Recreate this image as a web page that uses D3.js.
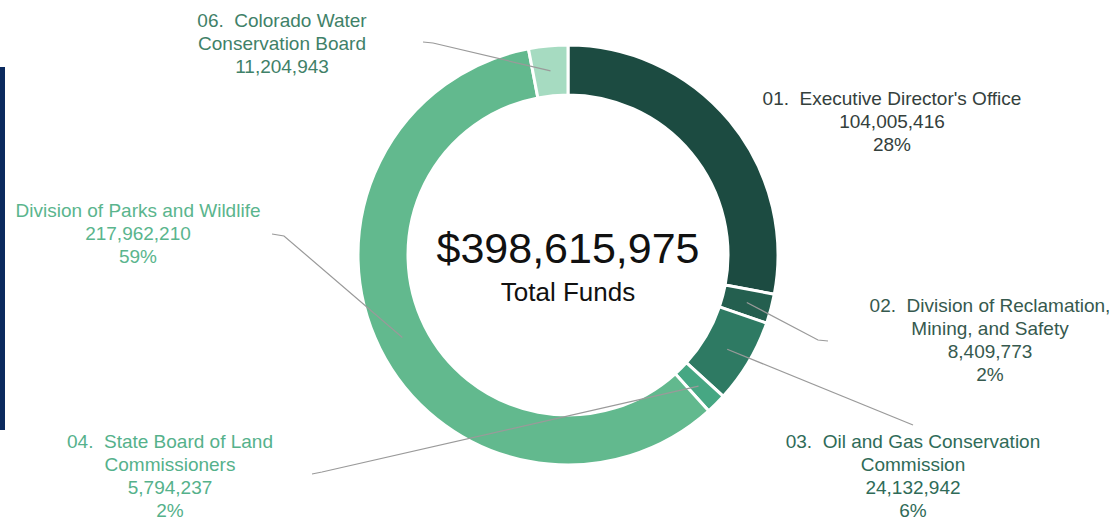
<!DOCTYPE html>
<html>
<head>
<meta charset="utf-8">
<script src="https://cdn.jsdelivr.net/npm/d3@7"></script>
<style>
  html, body { margin: 0; padding: 0; background: #fff; }
  svg { display: block; font-family: "Liberation Sans", Arial, sans-serif; }
</style>
</head>
<body>
<div class="view"></div>
<script>
// chart data
const names = [
  "01.  Executive Director's Office",
  "02.  Division of Reclamation,\nMining, and Safety",
  "03.  Oil and Gas Conservation\nCommission",
  "04.  State Board of Land\nCommissioners",
  "Division of Parks and Wildlife",
  "06.  Colorado Water\nConservation Board"
];
const funds = [104005416, 8409773, 24132942, 5794237, 217962210, 11204943];
const showPct = [true, true, true, true, true, false];
const totalFunds = 398615975;
const totalLabel = "Total Funds";

// look
const sliceColors = ["#1c4b41", "#245f4f", "#2e7a63", "#46a783", "#62b98e", "#a6dbc1"];
const textColors = ["#34403c", "#36594e", "#2f6b58", "#55b18b", "#5ab58d", "#3f8168"];

// label placement: centre x, first baseline y, leader end points (label side first)
const labelPos = [
  {x: 892, y: 105, leader: null},
  {x: 990, y: 312, leader: [[828, 341], [818, 340]]},
  {x: 913, y: 448, leader: [[913, 425]]},
  {x: 170, y: 448, leader: [[312, 474], [322, 472]]},
  {x: 138, y: 217, leader: [[272, 234], [284, 236]]},
  {x: 282, y: 27, leader: [[423, 42], [433, 43]]}
];

const width = 1116, height = 521;
const cx = 568, cy = 255;
const outerR = 210, innerR = 160, leaderR = 185;

let svg = d3.select(".view").append("svg")
  .attr("width", width)
  .attr("height", height);

// navy bar on the left edge
svg.append("rect")
  .attr("x", 0).attr("y", 67)
  .attr("width", 5).attr("height", 363)
  .attr("fill", "#0b2a5e");

let g = svg.append("g")
  .attr("transform", "translate(" + cx + "," + cy + ")");

let pie = d3.pie().sort(null).value(d => d);
let arcs = pie(funds);
let arc = d3.arc().innerRadius(innerR).outerRadius(outerR);
let midArc = d3.arc().innerRadius(leaderR).outerRadius(leaderR);

g.append("g").selectAll("path")
  .data(arcs)
  .join("path")
  .attr("d", arc)
  .attr("fill", (d, i) => sliceColors[i])
  .attr("stroke", "#fff")
  .attr("stroke-width", 3);

// leader lines (drawn over the ring like the original)
let line = d3.line();
g.append("g").selectAll("path")
  .data(arcs.filter((d, i) => labelPos[i].leader))
  .join("path")
  .attr("d", d => {
    let pts = labelPos[d.index].leader.map(p => [p[0] - cx, p[1] - cy]);
    pts.push(midArc.centroid(d));
    return line(pts);
  })
  .attr("fill", "none")
  .attr("stroke", "#9a9a9a")
  .attr("stroke-width", 1.2);

// labels
let total = d3.sum(funds);
let fmtNum = d3.format(",");
let fmtPct = d3.format(".0%");

let labels = svg.append("g").selectAll("text")
  .data(arcs)
  .join("text")
  .attr("x", (d, i) => labelPos[i].x)
  .attr("y", (d, i) => labelPos[i].y)
  .attr("text-anchor", "middle")
  .attr("font-size", 19)
  .attr("fill", (d, i) => textColors[i]);

labels.each(function (d, i) {
  let lines = names[i].split("\n");
  lines.push(fmtNum(funds[i]));
  if (showPct[i]) lines.push(fmtPct(funds[i] / total));
  d3.select(this).selectAll("tspan")
    .data(lines)
    .join("tspan")
    .attr("x", labelPos[i].x)
    .attr("dy", (t, j) => j === 0 ? 0 : 23)
    .attr("xml:space", "preserve")
    .text(t => t);
});

// centre text
g.append("text")
  .attr("text-anchor", "middle")
  .attr("y", 8)
  .attr("font-size", 43)
  .attr("fill", "#111")
  .text("$" + fmtNum(totalFunds));

g.append("text")
  .attr("text-anchor", "middle")
  .attr("y", 46)
  .attr("font-size", 26)
  .attr("fill", "#111")
  .text(totalLabel);
</script>
</body>
</html>
